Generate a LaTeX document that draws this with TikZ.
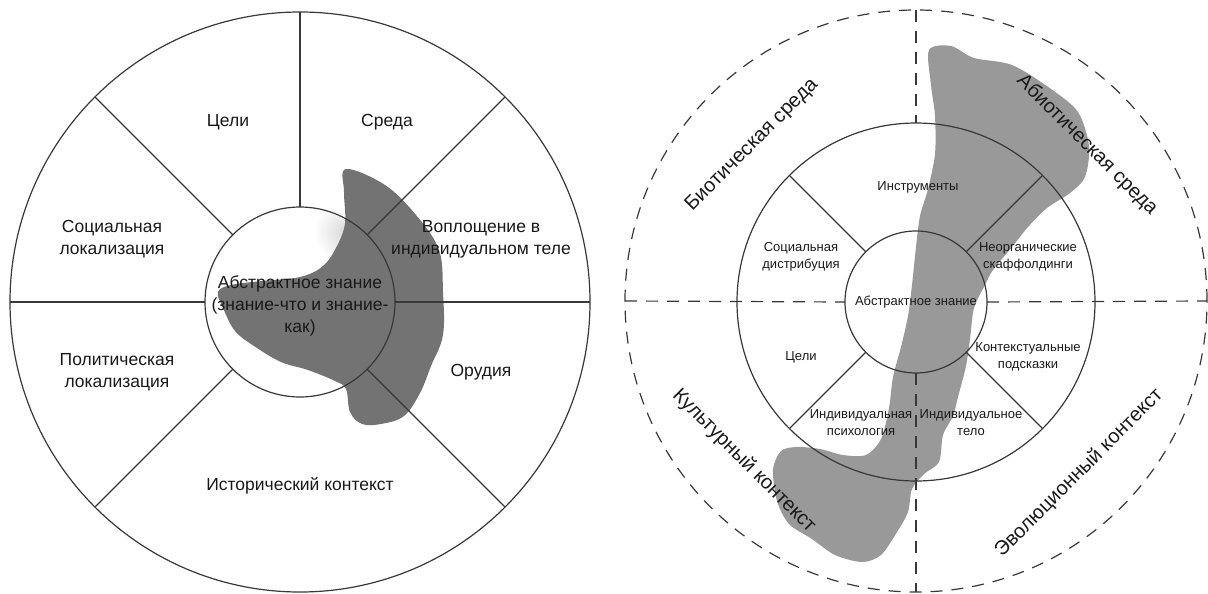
\documentclass[tikz,border=0pt]{standalone}
\usepackage{fontspec}
\setmainfont{Liberation Sans}

\definecolor{blobdark}{gray}{0.45}
\definecolor{bloblight}{gray}{0.60}
\definecolor{linegray}{gray}{0.22}

\tikzset{
  ring/.style={circle,draw=linegray,line width=1.2pt,outer sep=0pt,inner sep=0pt},
  spoke/.style={draw=linegray,line width=1.2pt},
  dashline/.style={draw=linegray,line width=1.2pt,dash pattern=on 12pt off 9pt},
  lbl/.style={align=center,text=black!90,font=\fontsize{17.5}{22}\selectfont},
  smalllbl/.style={align=center,text=black!90,font=\fontsize{13}{17}\selectfont},
  biglbl/.style={text=black!90,font=\fontsize{20}{24}\selectfont},
}

\newcommand{\LeftBlobPath}{plot[smooth cycle,tension=0.6] coordinates {
  (346,169) (385,185) (416,215) (439,250) (443,292) (443,335) (431,366)
  (420,393) (404,416) (381,424) (362,424) (350,412) (346,389) (335,381)
  (308,370) (281,362) (254,346) (235,331) (223,308) (218,292) (231,285)
  (262,281) (300,277) (323,266) (337,246) (345,223) (344,192)}}
\newcommand{\RightBlobPath}{plot[smooth cycle,tension=0.5] coordinates {
  (929,50) (951,46) (974,58) (1012,65) (1051,89) (1078,112) (1089,146)
  (1085,177) (1070,193) (1047,208) (1028,227) (1012,247) (993,270)
  (985,285) (974,308) (970,339) (966,366) (958,397) (953,416) (943,435)
  (939,462) (924,474) (912,489) (908,512) (897,532) (881,555) (862,562)
  (835,555) (812,539) (789,524) (777,501) (773,470) (781,451) (797,447)
  (820,449) (843,455) (866,455) (881,439) (889,408) (893,377) (901,347)
  (908,316) (912,285) (916,247) (920,216) (928,189) (935,154) (935,116)
  (931,85)}}

\begin{document}
\begin{tikzpicture}[x=1pt,y=-1pt]
  \useasboundingbox (0,0) rectangle (1208,594);

  % left wheel
  \begin{scope}
    \clip (300,302) circle[radius=94];
    \shade[inner color=blobdark!28,outer color=white] (346,232) circle[radius=32];
  \end{scope}
  \fill[blobdark] \LeftBlobPath;

  \node[ring,minimum size=580pt] (Lout) at (300,302) {};
  \node[ring,minimum size=190pt] (Lin)  at (300,302) {};
  \foreach \a in {0,45,90,135,180,225,315}
    \draw[spoke] (Lin.\a) -- (Lout.\a);

  \node[lbl] (goalsL)  at (228,122) {Цели};
  \node[lbl] (envL)    at (387,122) {Среда};
  \node[lbl] (socloc)  at (112,239) {Социальная\\локализация};
  \node[lbl] (embody)  at (481,239) {Воплощение в\\индивидуальном теле};
  \node[lbl] (abstrL)  at (300,306) {Абстрактное знание\\(знание-что и знание-\\как)};
  \node[lbl] (polloc)  at (117,372) {Политическая\\локализация};
  \node[lbl] (toolsL)  at (481,372) {Орудия};
  \node[lbl] (history) at (300,486) {Исторический контекст};

  % right wheel
  \fill[bloblight] \RightBlobPath;

  \node[circle,dashline,outer sep=0pt,minimum size=582pt] (Rout) at (916,301) {};
  \node[ring,minimum size=358pt] (Rmid) at (916,302) {};
  \node[ring,minimum size=142pt] (Rin)  at (916,302) {};

  \draw[dashline] (Rout.180) -- (Rin.180);
  \draw[dashline] (Rin.0) -- (Rout.0);
  \draw[dashline] (Rout.90) -- (Rmid.90);
  \draw[dashline] (Rin.270) -- (Rout.270);
  \foreach \a in {45,135,225,315}
    \draw[spoke] (Rin.\a) -- (Rmid.\a);

  \node[smalllbl] (instr)   at (918,187) {Инструменты};
  \node[smalllbl] (socdist) at (801,257) {Социальная\\дистрибуция};
  \node[smalllbl] (scaff)   at (1028,257) {Неорганические\\скаффолдинги};
  \node[smalllbl] (abstrR)  at (916,302) {Абстрактное знание};
  \node[smalllbl] (goalsR)  at (801,357) {Цели};
  \node[smalllbl] (cues)    at (1028,357) {Контекстуальные\\подсказки};
  \node[smalllbl] (psych)   at (861,423) {Индивидуальная\\психология};
  \node[smalllbl] (body)    at (971,423) {Индивидуальное\\тело};

  \node[biglbl,rotate=45]  (biotic)  at (752,145) {Биотическая среда};
  \node[biglbl,rotate=-45] (abiotic) at (1087,145) {Абиотическая среда};
  \node[biglbl,rotate=-45] (culture) at (744,461) {Культурный контекст};
  \node[biglbl,rotate=45]  (evol)    at (1079,473) {Эволюционный контекст};
\end{tikzpicture}
\end{document}
